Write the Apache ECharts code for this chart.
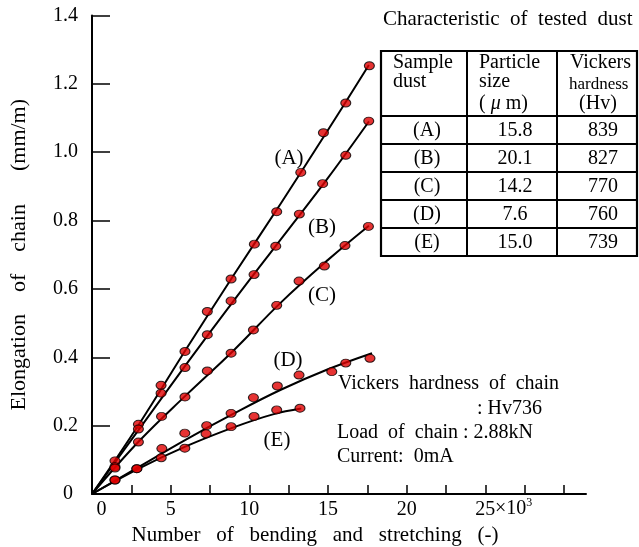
<!DOCTYPE html>
<html><head><meta charset="utf-8">
<script src="https://cdn.jsdelivr.net/npm/echarts@6/dist/echarts.min.js"></script>
<style>html,body{margin:0;padding:0;background:#fff}#c{width:639px;height:547px}</style>
</head><body><div id="c"></div>
<script>
// ---- data ----
const xTickValues = [2.5,5,7.5,10,12.5,15,17.5,20,22.5,25,27.5,30];
const xLabelValues = [0,5,10,15,20,25];
const yTickLabels = ['0','0.2','0.4','0.6','0.8','1.0','1.2','1.4'];

const pointsA = [[1.46,0.097],[2.95,0.204],[4.39,0.318],[5.91,0.417],[7.33,0.534],[8.84,0.629],[10.32,0.731],[11.74,0.826],[13.27,0.941],[14.71,1.057],[16.13,1.144],[17.63,1.253]];
const pointsB = [[1.46,0.080],[2.95,0.190],[4.39,0.295],[5.91,0.370],[7.33,0.466],[8.84,0.565],[10.30,0.642],[11.68,0.725],[13.18,0.819],[14.66,0.908],[16.13,0.991],[17.59,1.091]];
const pointsC = [[1.46,0.076],[2.95,0.152],[4.42,0.227],[5.91,0.284],[7.33,0.360],[8.84,0.412],[10.26,0.480],[11.74,0.552],[13.16,0.623],[14.77,0.667],[16.08,0.727],[17.57,0.783]];
const pointsD = [[1.46,0.041],[2.85,0.074],[4.44,0.133],[5.90,0.178],[7.29,0.200],[8.84,0.236],[10.26,0.282],[11.78,0.316],[13.16,0.348],[15.24,0.358],[16.13,0.383],[17.67,0.397]];
const pointsE = [[1.46,0.041],[2.85,0.074],[4.40,0.106],[5.90,0.134],[7.25,0.176],[8.84,0.197],[10.30,0.227],[11.74,0.246],[13.22,0.251]];

const fitA = [[0,0],[3,0.205],[6,0.425],[9,0.64],[12,0.85],[15,1.065],[17.6,1.255]];
const fitB = [[0,0],[3,0.19],[6,0.38],[9,0.565],[12,0.745],[15,0.925],[17.6,1.09]];
const fitC = [[0,0],[3,0.155],[6,0.29],[9,0.42],[12,0.56],[15,0.685],[17.6,0.785]];
const fitD = [[0,0],[3,0.08],[6,0.16],[9,0.235],[12,0.305],[15,0.365],[17.8,0.412]];
const fitE = [[0,0],[3,0.075],[6,0.14],[9,0.195],[11.5,0.233],[13.3,0.25]];

const sampleNames = ['(A)','(B)','(C)','(D)','(E)'];
const particleSizes = ['15.8','20.1','14.2','7.6','15.0'];
const hardnessValues = ['839','827','770','760','739'];

// ---- chart ----
const F = 'Liberation Serif';
const chart = echarts.init(document.getElementById('c'), null, {renderer:'canvas'});

const scatterStyle = {color:'#e00000', borderColor:'#000', borderWidth:1};
function scatter(d){return {type:'scatter', data:d, symbol:'circle', symbolSize:[10,8], itemStyle:scatterStyle, z:5, silent:true};}
function fit(d){return {type:'line', data:d, smooth:0.4, symbol:'none', lineStyle:{color:'#000', width:2}, z:3, silent:true};}

// table geometry
const tL=381, tR=637, tT=51, tH=116, rowH=28;
const colX=[381,467,557,637];
const g=[];
g.push({type:'rect', shape:{x:tL,y:tT,width:tR-tL,height:tH-tT+rowH*5}, style:{fill:'#fff',stroke:'#000',lineWidth:2.2}, z:10});
for(let i=1;i<3;i++) g.push({type:'line', shape:{x1:colX[i],y1:tT,x2:colX[i],y2:tH+rowH*5}, style:{stroke:'#000',lineWidth:2}, z:11});
for(let r=0;r<5;r++) g.push({type:'line', shape:{x1:tL,y1:tH+rowH*r,x2:tR,y2:tH+rowH*r}, style:{stroke:'#000',lineWidth:2}, z:11});
const ts=(x,y,t,sz,al)=>({type:'text', x:x, y:y, style:{text:t, font:(sz||20)+'px "'+F+'"', fill:'#000', align:al||'left', verticalAlign:'middle'}, z:12});
g.push(ts(393,63,'Sample')); g.push(ts(393,82,'dust'));
g.push(ts(479,63,'Particle')); g.push(ts(479,82,'size'));
g.push({type:'text', x:479, y:104, style:{text:'( {i|μ} m)', font:'20px "'+F+'"', fill:'#000', verticalAlign:'middle', rich:{i:{font:'italic 20px "'+F+'"'}}}, z:12});
g.push(ts(570,63,'Vickers')); g.push(ts(569,85,'hardness',17)); g.push(ts(598,104,'(Hv)',20,'center'));
for(let r=0;r<5;r++){
  const cy=tH+rowH*r+rowH/2+1;
  g.push(ts(427,cy,sampleNames[r],20,'center'));
  g.push(ts(515,cy,particleSizes[r],20,'center'));
  g.push(ts(603,cy,hardnessValues[r],20,'center'));
}
g.push(ts(383,19,'Characteristic  of  tested  dust',21));
// curve labels
g.push(ts(289,158,'(A)',21,'center'));
g.push(ts(322,227,'(B)',21,'center'));
g.push(ts(322,295,'(C)',21,'center'));
g.push(ts(288,360,'(D)',21,'center'));
g.push(ts(277,440,'(E)',21,'center'));
// conditions
g.push(ts(338,384,'Vickers  hardness  of  chain',20));
g.push(ts(477,409,': Hv736',20));
g.push(ts(337,433,'Load  of  chain : 2.88kN',20));
g.push(ts(337,457,'Current:  0mA',20));
// x10^3
g.push({type:'text', x:495, y:509, style:{text:'×10{s|3}', font:'20px "'+F+'"', fill:'#000', verticalAlign:'middle', rich:{s:{font:'12px "'+F+'"', verticalAlign:'top', padding:[0,0,12,0]}}}, z:12});

chart.setOption({
  animation:false,
  backgroundColor:'#fff',
  grid:{left:92, right:53, top:15.5, bottom:53, containLabel:false, outerBoundsMode:'none'},
  xAxis:{type:'value', min:0, max:31.4,
    axisLine:{show:true, onZero:false, lineStyle:{color:'#000', width:2}},
    axisTick:{show:true, inside:true, length:9, customValues:xTickValues, lineStyle:{color:'#000', width:1.5}},
    axisLabel:{customValues:xLabelValues, margin:6, color:'#000', fontFamily:F, fontSize:20,
      formatter:v=> v===0 ? '{z|0}' : String(v),
      rich:{z:{padding:[0,0,0,19], fontFamily:F, fontSize:20, color:'#000'}}},
    splitLine:{show:false},
    name:'Number   of   bending   and   stretching   (-)', nameLocation:'middle', nameGap:30,
    nameTextStyle:{fontFamily:F, fontSize:21, color:'#000', padding:[0,48,0,0]}
  },
  yAxis:{type:'value', min:0, max:1.4, interval:0.2,
    axisLine:{show:true, lineStyle:{color:'#000', width:2}},
    axisTick:{show:true, inside:true, length:18, lineStyle:{color:'#000', width:1.5}},
    axisLabel:{margin:14, color:'#000', fontFamily:F, fontSize:20,
      formatter:(v)=>{const i=Math.round(v/0.2); return i===0 ? '{z|0}' : yTickLabels[i];},
      rich:{z:{padding:[0,5,0,0], fontFamily:F, fontSize:20, color:'#000'}}},
    splitLine:{show:false},
    name:'Elongation    of    chain      (mm/m)', nameLocation:'middle', nameGap:62, nameRotate:90,
    nameTextStyle:{fontFamily:F, fontSize:22, color:'#000'}
  },
  series:[fit(fitA),fit(fitB),fit(fitC),fit(fitD),fit(fitE),
          scatter(pointsA),scatter(pointsB),scatter(pointsC),scatter(pointsD),scatter(pointsE)],
  graphic:g
});
</script></body></html>
